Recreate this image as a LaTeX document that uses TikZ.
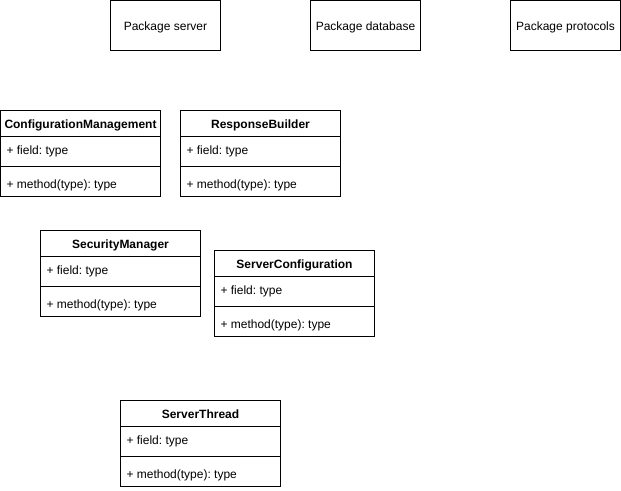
\documentclass[tikz,border=0pt]{standalone}
\usepackage{fontspec}
\setmainfont{Liberation Sans}
\frenchspacing
\begin{document}
\begin{tikzpicture}[x=1pt,y=-1pt,
  every node/.style={inner sep=0pt,outer sep=0pt,font=\fontsize{12}{14}\selectfont},
  pkgbox/.style={draw,line width=1pt,minimum width=110pt,minimum height=50pt,anchor=north west},
  classbox/.style={draw,line width=1pt,minimum width=160pt,minimum height=86pt,anchor=north west},
  label/.style={text height=8.6pt,text depth=2.6pt},
  divider/.style={line width=1pt},
  member/.style={label,anchor=west}]
\useasboundingbox (0,0) rectangle (621,490);

% package boxes (texts set in separate nodes for exact vertical placement)
\node[pkgbox] (pserver) at (110.5,0.5) {};
\node[pkgbox] (pdatabase) at (310.5,0.5) {};
\node[pkgbox] (pprotocols) at (510.5,0.5) {};
\node[label] (pserver-text) at ([yshift=-1.5pt]pserver.center) {Package server};
\node[label] (pdatabase-text) at ([yshift=-1.5pt]pdatabase.center) {Package database};
\node[label] (pprotocols-text) at ([yshift=-1.5pt]pprotocols.center) {Package protocols};

% class box: name, x, y, title
\newcommand{\umlclass}[4]{%
  \node[classbox] (#1) at (#2,#3) {};
  \draw[divider] ([yshift=-26pt]#1.north west) -- ([yshift=-26pt]#1.north east);
  \draw[divider] ([yshift=-56pt]#1.north west) -- ([yshift=-56pt]#1.north east);
  \node[label,font=\fontsize{12}{14}\selectfont\bfseries] (#1-title) at ([yshift=-14.8pt]#1.north) {#4};
  \node[member] (#1-field) at ([xshift=6pt,yshift=-41pt]#1.north west) {+ field: type};
  \node[member] (#1-method) at ([xshift=6pt,yshift=-74.8pt]#1.north west) {+ method(type): type};
}

\umlclass{cfgmgmt}{0.5}{110.5}{ConfigurationManagement}
\umlclass{respbuilder}{180.5}{110.5}{ResponseBuilder}
\umlclass{secmgr}{40.5}{230.5}{SecurityManager}
\umlclass{srvcfg}{214.5}{250.5}{ServerConfiguration}
\umlclass{srvthread}{120.5}{400.5}{ServerThread}
\end{tikzpicture}
\end{document}
